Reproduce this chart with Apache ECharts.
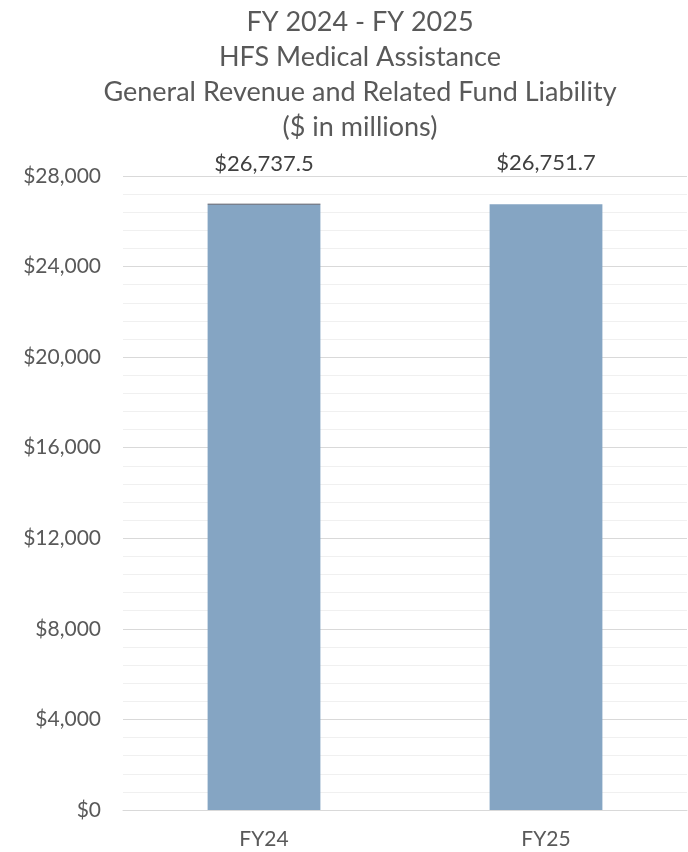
<!DOCTYPE html>
<html>
<head>
<meta charset="utf-8">
<script src="https://cdn.jsdelivr.net/npm/echarts@6/dist/echarts.min.js"></script>
<style>
  html, body { margin: 0; padding: 0; background: #fff; }
  #chart { width: 688px; height: 852px; }
</style>
</head>
<body>
<div id="chart"></div>
<script>
const titleLines = [
  "FY 2024 - FY 2025",
  "HFS Medical Assistance",
  "General Revenue and Related Fund Liability",
  "($ in millions)",
];
const categories = ["FY24", "FY25"];
const liability = [26737.5, 26751.7];
// thin dark cap visible on top of the FY24 bar
const capValues = [40, 0];
const yTicks = { min: 0, max: 28000, interval: 4000 };

const chart = echarts.init(document.getElementById("chart"));
const font = "Lato, 'Open Sans', sans-serif";

chart.setOption({
  animation: false,
  title: {
    text: titleLines.join("\n"),
    left: 360,
    top: 0,
    textAlign: "center",
    padding: [5, 0, 5, 0],
    textStyle: {
      fontFamily: font,
      fontSize: 27,
      fontWeight: "normal",
      color: "#595959",
      lineHeight: 35,
    },
  },
  grid: {
    left: 123,
    right: 1,
    top: 176,
    bottom: 42,
  },
  xAxis: {
    type: "category",
    data: categories,
    axisTick: { show: false },
    axisLine: { lineStyle: { color: "#d9d9d9" } },
    axisLabel: {
      fontFamily: font,
      fontSize: 21,
      color: "#595959",
      margin: 19,
    },
  },
  yAxis: {
    type: "value",
    min: yTicks.min,
    max: yTicks.max,
    interval: yTicks.interval,
    axisLine: { show: false },
    axisTick: { show: false },
    axisLabel: {
      fontFamily: font,
      fontSize: 21,
      color: "#595959",
      margin: 22,
      formatter: (v) => "$" + v.toLocaleString("en-US"),
    },
    splitLine: { lineStyle: { color: "#d9d9d9", width: 1 } },
    minorTick: { show: false, splitNumber: 5 },
    minorSplitLine: { show: true, lineStyle: { color: "#f0f0f0", width: 1 } },
  },
  series: [
    {
      type: "bar",
      stack: "total",
      data: liability,
      barWidth: "40%",
      itemStyle: { color: "#85a5c3" },
      label: {
        show: true,
        position: "top",
        distance: 30,
        fontFamily: font,
        fontSize: 22,
        color: "#404040",
        formatter: (p) =>
          "$" + p.value.toLocaleString("en-US", { minimumFractionDigits: 1, maximumFractionDigits: 1 }),
      },
    },
    {
      type: "bar",
      stack: "total",
      data: capValues,
      barWidth: "40%",
      itemStyle: { color: "#2e2e3a" },
    },
  ],
});
</script>
</body>
</html>
